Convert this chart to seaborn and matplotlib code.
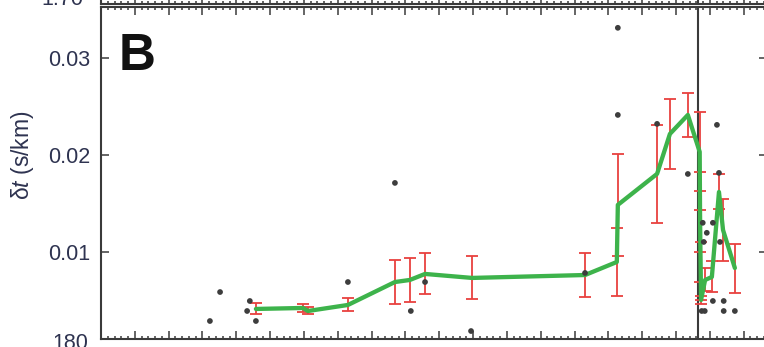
import matplotlib
matplotlib.use("Agg")
import matplotlib.pyplot as plt
import pandas as pd
import seaborn as sns
from matplotlib.ticker import MultipleLocator, NullLocator

sns.set_theme(style="ticks")
plt.rcParams["font.family"] = ["Liberation Sans", "DejaVu Sans"]
plt.rcParams["mathtext.fontset"] = "custom"
plt.rcParams["mathtext.rm"] = "Liberation Sans"
plt.rcParams["mathtext.it"] = "Liberation Sans:italic"

# individual delay-time measurements
obs_x = [32.2, 35.2, 44.0, 43.2, 45.8, 73.0, 86.9, 91.6, 95.8, 109.4,
         143.1, 152.8, 152.8, 164.4, 173.5, 182.7, 182.1, 177.9, 180.9,
         179.1, 178.2, 183.0, 180.9, 184.1, 177.6, 178.5, 184.1, 187.4]
obs_dt = [0.00291, 0.00589, 0.00497, 0.00394, 0.00291, 0.00692, 0.01711,
          0.00394, 0.00692, 0.00188, 0.00785, 0.03306, 0.02410, 0.02318,
          0.01803, 0.01814, 0.02308, 0.01301, 0.01301, 0.01198, 0.01104,
          0.01104, 0.00497, 0.00497, 0.00394, 0.00394, 0.00394, 0.00394]

# running mean with its uncertainty
mean_x = [45.8, 59.7, 61.2, 73.0, 86.9, 91.3, 95.8, 109.7, 143.1, 152.5,
          152.8, 164.4, 168.2, 173.5, 177.0, 177.1, 177.2, 177.3, 177.4,
          178.6, 180.6, 182.7, 183.9, 187.4]
mean_dt = [0.00415, 0.00425, 0.00394, 0.00456, 0.00692, 0.00713, 0.00775,
           0.00734, 0.00764, 0.00898, 0.01485, 0.01804, 0.02215, 0.02410,
           0.02030, 0.01413, 0.01063, 0.00806, 0.00507, 0.00713, 0.00744,
           0.01618, 0.01227, 0.00836]
mean_err = [0.00057, 0.00041, 0.00036, 0.00067, 0.00226, 0.00231, 0.00211,
            0.00221, 0.00231, 0.00350, 0.00525, 0.00504, 0.00360, 0.00226,
            0.00406, 0.00412, 0.00370, 0.00298, 0.00041, 0.00118, 0.00159,
            0.00180, 0.00319, 0.00252]

event_x = 176.5
y_ticks = [0.01, 0.02, 0.03]
y_labels = ["0.01", "0.02", "0.03"]

W, H = 764, 347
label_color = "#2e3350"
axis_color = "#3a3a3a"

fig = plt.figure(figsize=(W / 100, H / 100), dpi=100)

def rect(left, top, right, bottom):
    return [left / W, (H - bottom) / H, (right - left) / W, (bottom - top) / H]

ax = fig.add_axes(rect(101, 7, 767, 339))

ax.axvline(event_x, color=axis_color, lw=1.5, zorder=1)
ax.errorbar(mean_x, mean_dt, yerr=mean_err, fmt="none", ecolor="#e8413f",
            elinewidth=1.3, capsize=4.3, capthick=1.3, zorder=2)
sns.lineplot(data=pd.DataFrame({"x": mean_x, "dt": mean_dt}), x="x", y="dt",
             sort=False, estimator=None, color="#3db34b", linewidth=3.1,
             ax=ax, zorder=3)
sns.scatterplot(data=pd.DataFrame({"x": obs_x, "dt": obs_dt}), x="x", y="dt",
                color="#3d3d3d", s=17, edgecolor="none", ax=ax, zorder=4)

ax.set_xlim(0, 196.9)
ax.set_ylim(0.00106, 0.0352)
ax.set_xlabel("")
ax.set_ylabel(r"$\mathrm{\delta}\mathit{t}$ (s/km)", fontsize=16.5,
              color=label_color)
ax.yaxis.set_label_coords(-0.0976, 0.553)

ax.xaxis.set_major_locator(MultipleLocator(10))
ax.xaxis.set_minor_locator(MultipleLocator(2))
ax.tick_params(axis="x", which="both", direction="in", top=True, bottom=True,
               labelbottom=False, color=axis_color, width=1.1)
ax.tick_params(axis="x", which="major", length=5.8)
ax.tick_params(axis="x", which="minor", length=2.2)
ax.set_yticks(y_ticks, y_labels)
ax.yaxis.set_minor_locator(NullLocator())
ax.tick_params(axis="y", direction="in", left=True, right=True, length=5.8,
               width=1.1, color=axis_color, labelsize=15.5, pad=8,
               labelcolor=label_color)
for s in ax.spines.values():
    s.set_linewidth(1.5)
    s.set_color(axis_color)

# panel above (only its lower edge shows)
ax_top = fig.add_axes(rect(101, -300, 767, 4))
ax_top.axvline(event_x, color=axis_color, lw=1.5)
ax_top.set_xlim(0, 196.9)
ax_top.set_ylim(1.675, 2.7)
ax_top.xaxis.set_major_locator(MultipleLocator(10))
ax_top.xaxis.set_minor_locator(MultipleLocator(2))
ax_top.tick_params(axis="x", which="both", direction="in", bottom=True,
                   labelbottom=False, color=axis_color, width=1.1)
ax_top.tick_params(axis="x", which="major", length=5.8)
ax_top.tick_params(axis="x", which="minor", length=2.2)
ax_top.set_yticks([1.70], ["1.70"])
ax_top.tick_params(axis="y", length=0, labelsize=15.5, pad=13,
                   labelcolor=label_color)
for s in ax_top.spines.values():
    s.set_linewidth(1.5)
    s.set_color(axis_color)

# panel below (only its top tick label shows)
ax_bot = fig.add_axes(rect(101, 341, 767, 700))
ax_bot.set_xlim(0, 196.9)
ax_bot.set_ylim(0, 180)
ax_bot.set_xticks([])
ax_bot.set_yticks([180], ["180"])
ax_bot.tick_params(axis="y", length=0, labelsize=15.5, pad=9.4,
                   labelcolor=label_color)
for s in ax_bot.spines.values():
    s.set_visible(False)
ax_bot.patch.set_alpha(0)

fig.text(119 / W, (H - 70) / H, "B", fontsize=37, fontweight="bold",
         ha="left", va="baseline", color="#111111")

fig.savefig("out.png", dpi=100)
